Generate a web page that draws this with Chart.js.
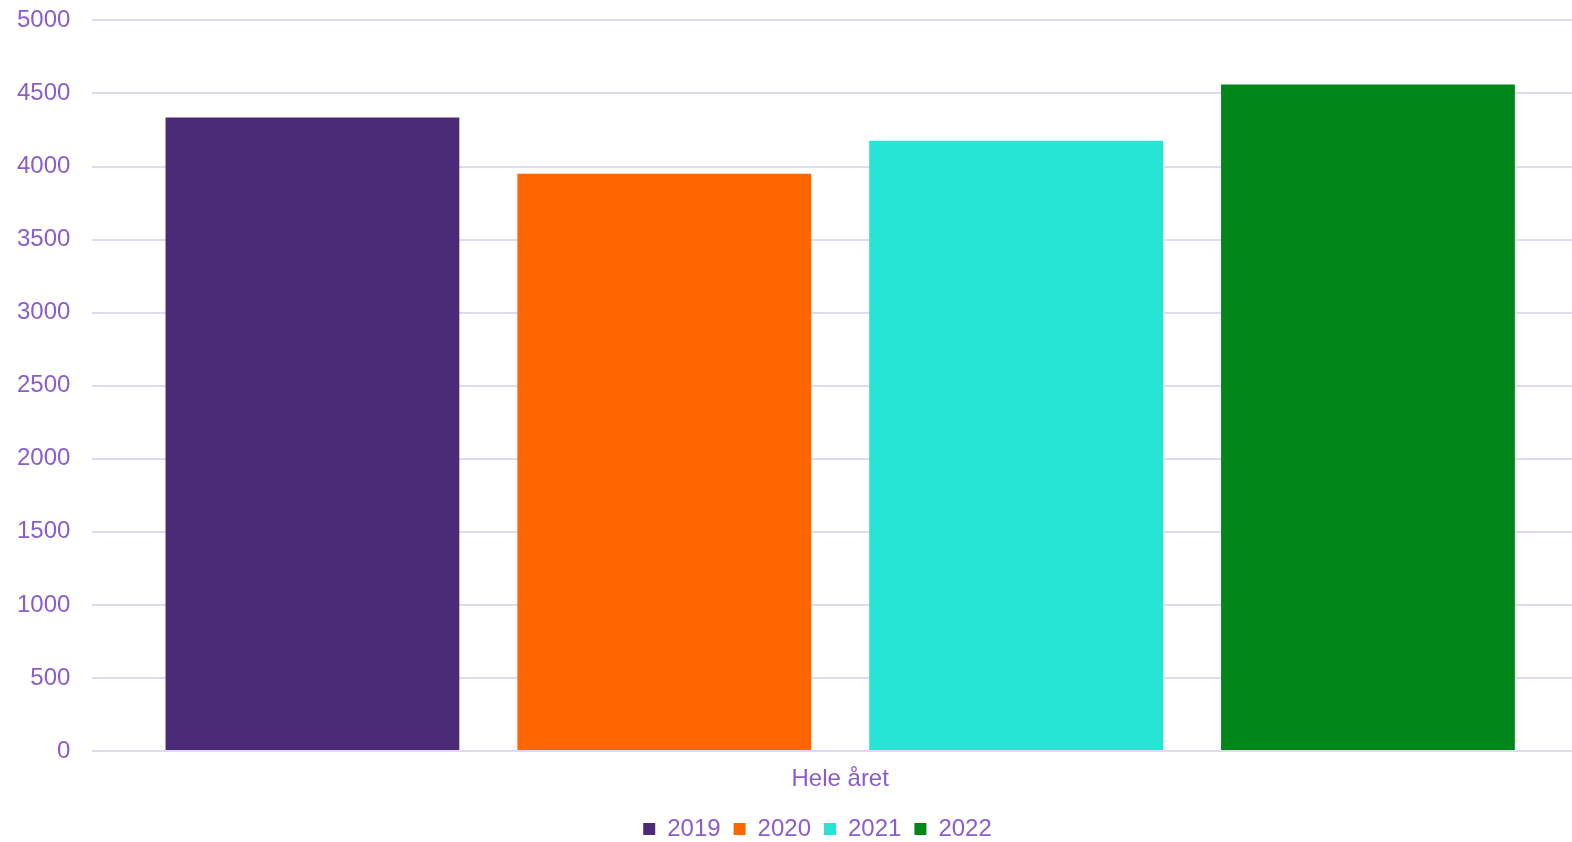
<!DOCTYPE html>
<html>
<head>
<meta charset="utf-8">
<script src="https://cdn.jsdelivr.net/npm/chart.js@4/dist/chart.umd.min.js"></script>
<style>
  html, body { margin: 0; padding: 0; background: #fff; overflow: hidden; }
  #wrap { width: 1588px; height: 842px; position: relative; }
</style>
</head>
<body>
<div id="wrap"><canvas id="chart"></canvas></div>
<script>
var categories = ['Hele året'];
var years = ['2019', '2020', '2021', '2022'];
var values2019 = [4335];
var values2020 = [3951];
var values2021 = [4177];
var values2022 = [4561];
var colors = ['#4b2a78', '#ff6600', '#26e5d4', '#008619'];

var textColor = '#8a5ccc';
var gridColor = '#e1d9f1';
var font = { family: "'Liberation Sans', Arial, sans-serif", size: 24 };

// nudge the legend a little to the right, like the original
var legendNudge = {
    id: 'legendNudge',
    afterLayout: function (chart) {
        chart.legend.left += 18;
        chart.legend.right += 18;
    }
};

var ctx = document.getElementById('chart').getContext('2d');
var myChart = new Chart(ctx, {
    type: 'bar',
    data: {
        labels: categories,
        datasets: [
            { label: years[0], data: values2019, backgroundColor: colors[0] },
            { label: years[1], data: values2020, backgroundColor: colors[1] },
            { label: years[2], data: values2021, backgroundColor: colors[2] },
            { label: years[3], data: values2022, backgroundColor: colors[3] }
        ]
    },
    options: {
        responsive: true,
        maintainAspectRatio: false,
        animation: false,
        datasets: {
            bar: { categoryPercentage: 0.941, barPercentage: 0.835 }
        },
        layout: { padding: { left: 11, top: 0, right: 0, bottom: -9 } },
        plugins: {
            tooltip: { enabled: false },
            legend: {
                position: 'bottom',
                labels: {
                    color: textColor,
                    font: font,
                    boxWidth: 12,
                    boxHeight: 12,
                    padding: 13
                }
            }
        },
        scales: {
            x: {
                grid: { display: false },
                border: { display: false },
                ticks: { color: textColor, font: font, padding: 6 },
                afterFit: function (scale) { scale.height = 53; }
            },
            y: {
                min: 0,
                max: 5000,
                border: { display: false },
                grid: { color: gridColor, lineWidth: 2, drawTicks: true, tickLength: 16, tickColor: 'transparent' },
                ticks: {
                    stepSize: 500,
                    color: textColor,
                    font: font,
                    padding: 6,
                    callback: function (v) { return String(v); }
                }
            }
        }
    },
    plugins: [legendNudge]
});
</script>
</body>
</html>
